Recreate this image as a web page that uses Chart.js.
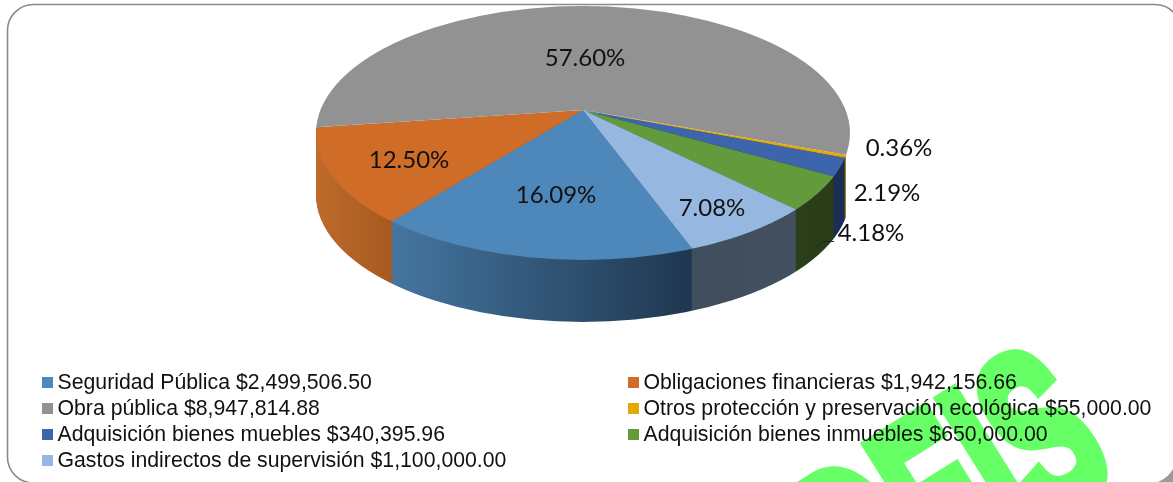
<!DOCTYPE html>
<html><head><meta charset="utf-8">
<style>html,body{margin:0;padding:0;background:#fff;overflow:hidden}canvas{display:block}</style>
<script src="https://cdn.jsdelivr.net/npm/chart.js@4"></script>
</head><body><canvas id="c" width="1173" height="482"></canvas>
<script>
const categories = ["Seguridad Pública","Obligaciones financieras","Obra pública","Otros protección y preservación ecológica","Adquisición bienes muebles","Adquisición bienes inmuebles","Gastos indirectos de supervisión"];
const amounts = [2499506.50,1942156.66,8947814.88,55000.00,340395.96,650000.00,1100000.00];
const percentLabels = ["16.09%","12.50%","57.60%","0.36%","2.19%","4.18%","7.08%"];
const topColors = ["#4e87ba","#cf6d28","#929292","#e5a800","#3d65ab","#639a3c","#96b8e0"];

const sideStops = [["#44759f","#1f3750",395,690],["#bd6a2b","#a4581f",320,398],["rgba(0,0,0,0)","rgba(0,0,0,0)",316,850],["#8a6800","#8a6800",830,850],["#1c3059","#1a2e55",800,850],["#2b3f1a","#2a3c18",790,840],["#3f4d5c","#425060",690,800]];
const labelAnchors = [[556,195],[409,160],[585,58],[899,148],[887,193],[871,233],[712,208]];
const legendOrder = [[0,42,382],[1,628,382],[2,42,408],[3,628,408],[4,42,434],[5,628,434],[6,42,460]];
const money = v => "$" + v.toLocaleString("en-US",{minimumFractionDigits:2,maximumFractionDigits:2});

const PIE = {apexY:110, ellX:583, ellY:133, rx:267, ry:127, squashL:.43, squashR:.5, depth:62};

function face(chart, ctx, d, fill){
  const arcs = chart.getDatasetMeta(0).data;
  const c0 = (chart.chartArea.top + chart.chartArea.bottom)/2;
  [[0,PIE.ellX+.5,PIE.squashL],[PIE.ellX-.5,1173,PIE.squashR]].forEach(([x0,x1,s])=>{
    ctx.save();
    ctx.beginPath();
    ctx.ellipse(PIE.ellX, PIE.ellY + d, PIE.rx, PIE.ry, 0, 0, Math.PI*2);
    ctx.clip();
    ctx.beginPath(); ctx.rect(x0,0,x1-x0,482); ctx.clip();
    ctx.translate(0, PIE.apexY + d);
    ctx.scale(1, s);
    ctx.translate(0, -c0);
    arcs.forEach((arc,i)=>{
      const saved = arc.options;
      arc.options = Object.assign({}, saved, {backgroundColor: fill(i), borderWidth:0});
      arc.draw(ctx);
      arc.options = saved;
    });
    ctx.restore();
  });
}

const pie3d = {
  id:"pie3d",
  beforeDraw(chart){
    const ctx = chart.ctx;
    ctx.save();
    ctx.fillStyle="#fff"; ctx.fillRect(0,0,1173,482);
    // bottom-right shaded corner
    ctx.fillStyle="#9a9a9a"; ctx.fillRect(1140,450,33,32);
    ctx.beginPath(); ctx.arc(1147,454,30,0,Math.PI*2); ctx.fillStyle="#fff"; ctx.fill();
    ctx.fillRect(1140,440,33,14); ctx.fillRect(1130,450,17,32);
    // frame
    ctx.beginPath();
    ctx.moveTo(1181,30); ctx.arcTo(1181,4.5,1155,4.5,26);
    ctx.lineTo(33,4.5); ctx.arcTo(7.5,4.5,7.5,30,26);
    ctx.lineTo(7.5,458); ctx.arcTo(7.5,483,33,483,26);
    ctx.strokeStyle="#8a8a8a"; ctx.lineWidth=1.6; ctx.stroke();
    ctx.restore();
  },
  beforeDatasetsDraw(chart){
    const ctx = chart.ctx;
    const grads = sideStops.map(([a,b,x0,x1])=>{
      const g = ctx.createLinearGradient(x0,0,x1,0);
      g.addColorStop(0,a); g.addColorStop(1,b); return g;
    });
    for(let d=PIE.depth; d>=1; d--) face(chart, ctx, d, i=>grads[i]);
    face(chart, ctx, 0, i=>topColors[i]);
    return false;
  },
  afterDraw(chart){
    const ctx = chart.ctx;
    ctx.save();
    // watermark
    ctx.save();
    ctx.translate(865,635);
    ctx.rotate(-32*Math.PI/180);
    ctx.scale(.56,1);
    ctx.font="bold 230px 'Liberation Sans'";
    ctx.fillStyle="#66ff66"; ctx.strokeStyle="#66ff66"; ctx.lineWidth=15; ctx.lineJoin="miter";
    ctx.textAlign="left"; ctx.textBaseline="alphabetic";
    ctx.strokeText("DEIS",0,0);
    ctx.fillText("DEIS",0,0);
    ctx.restore();
    // percent labels
    ctx.font="24px Lato";
    ctx.fillStyle="#111";
    ctx.textAlign="center"; ctx.textBaseline="middle";
    percentLabels.forEach((t,i)=>{
      const [x,y]=labelAnchors[i];
      ctx.fillText(t,x,y);
    });
    // leader line
    ctx.strokeStyle="#222"; ctx.lineWidth=1;
    ctx.beginPath(); ctx.moveTo(816,247); ctx.lineTo(822,241.5); ctx.lineTo(834,241.5); ctx.stroke();
    // legend
    ctx.font="21.25px 'Liberation Sans'";
    ctx.textAlign="left";
    legendOrder.forEach(([i,x,y])=>{
      ctx.fillStyle=topColors[i];
      ctx.fillRect(x,y-5,11,11);
      ctx.fillStyle="#111";
      ctx.fillText(categories[i]+" "+money(amounts[i]),x+15.5,y+1);
    });
    ctx.restore();
  }
};

new Chart(document.getElementById("c"),{
  type:"pie",
  data:{labels:categories,datasets:[{data:amounts,backgroundColor:topColors,borderWidth:0,radius:360,clip:false}]},
  options:{responsive:false,animation:false,rotation:158.5,layout:{padding:{right:7}},
    plugins:{legend:{display:false},tooltip:{enabled:false}}},
  plugins:[pie3d]
});
</script></body></html>
